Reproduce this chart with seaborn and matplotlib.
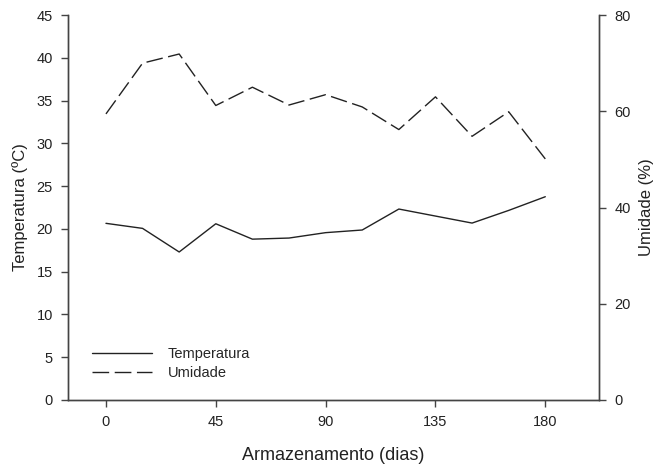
import matplotlib
matplotlib.use("Agg")
import matplotlib.pyplot as plt
import seaborn as sns
import pandas as pd
from matplotlib.lines import Line2D

dias = [0, 15, 30, 45, 60, 75, 90, 105, 120, 135, 150, 165, 180]
temperatura = [20.65, 20.06, 17.3, 20.6, 18.8, 18.93, 19.56, 19.87, 22.32, 21.5, 20.68, 22.16, 23.76]
umidade = [59.45, 70.0, 71.9, 61.2, 65.0, 61.3, 63.45, 60.9, 56.2, 63.0, 54.8, 59.9, 50.1]
x_ticks = [0, 45, 90, 135, 180]
temp_ticks = [0, 5, 10, 15, 20, 25, 30, 35, 40, 45]
umid_ticks = [0, 20, 40, 60, 80]

df = pd.DataFrame({"dias": dias, "temperatura": temperatura, "umidade": umidade})

sns.set_theme(style="ticks")
plt.rcParams['font.family'] = ['Liberation Sans', 'DejaVu Sans']

fig = plt.figure(figsize=(6.55, 4.7), dpi=100)
ax = fig.add_axes([0.104, 0.149, 0.8105, 0.819])
ax2 = ax.twinx()

line_col = "#222222"
spine_col = "#444444"

sns.lineplot(data=df, x="dias", y="temperatura", ax=ax, color=line_col, linewidth=1.0)
sns.lineplot(data=df, x="dias", y="umidade", ax=ax2, color=line_col, linewidth=1.0,
             dashes=False)
ax2.lines[0].set_dashes((12, 4))

ax.set_xlim(-15.5, 202)
ax.set_ylim(0, 45)
ax2.set_ylim(0, 80)
ax.set_xticks(x_ticks)
ax.set_yticks(temp_ticks)
ax2.set_yticks(umid_ticks)

for a in (ax, ax2):
    a.spines['top'].set_visible(False)
    for s in a.spines.values():
        s.set_color(spine_col)
        s.set_linewidth(1.0)
    a.tick_params(axis='both', colors=spine_col, labelcolor="#222222", labelsize=10.5,
                  length=5, width=1.0, direction='out', pad=6)

ax.set_xlabel("Armazenamento (dias)", fontsize=13, color="#222222", labelpad=13)
ax.set_ylabel("Temperatura (ºC)", fontsize=12, color="#222222", labelpad=6)
ax2.set_ylabel("Umidade (%)", fontsize=12, color="#222222", labelpad=6)

handles = [Line2D([], [], color=line_col, lw=1.0),
           Line2D([], [], color=line_col, lw=1.0, dashes=(12, 4))]
ax2.legend(handles, ["Temperatura", "Umidade"], loc='lower left',
           bbox_to_anchor=(0.02, 0.018), frameon=False, fontsize=10.5,
           handlelength=4.1, handletextpad=1.1, labelspacing=0.35)

fig.savefig("out.png", dpi=100)
